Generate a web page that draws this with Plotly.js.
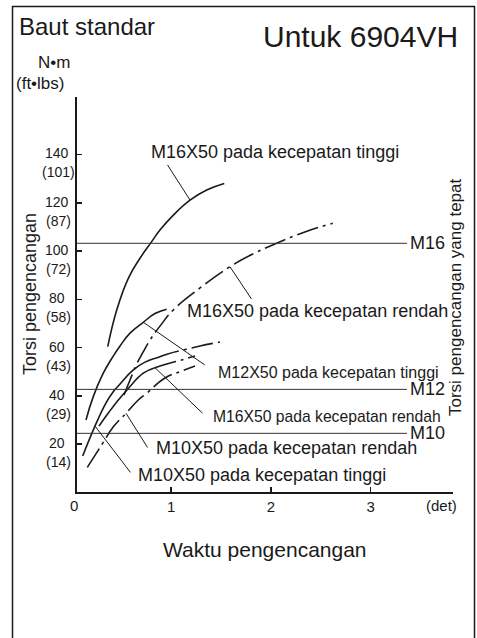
<!DOCTYPE html>
<html><head><meta charset="utf-8">
<script src="https://cdn.plot.ly/plotly-3.0.1.min.js"></script>
<style>html,body{margin:0;padding:0;background:#fff;}#chart{width:477px;height:638px;}</style>
</head><body><div id="chart"></div>
<script>
// ---------------- data ----------------
const torqueTicks = [20, 40, 60, 80, 100, 120, 140];          // N·m
const torqueFtLbs = ['(14)', '(29)', '(43)', '(58)', '(72)', '(87)', '(101)'];
const timeTicks = [1, 2, 3];                                    // det

// M16X50 high speed (solid)
const m16HighX = [0.366, 0.456, 0.572, 0.689, 0.806, 0.889, 1.023, 1.19, 1.357, 1.533];
const m16HighY = [60.4, 75.6, 88.7, 97.0, 103.9, 108.7, 114.9, 121.1, 125.3, 128.0];
// M16X50 low speed (dash-dot)
const m16LowX = [0.529, 0.589, 0.656, 0.722, 0.789, 0.889, 1.023, 1.29, 1.59, 1.82, 2.058, 2.34, 2.62];
const m16LowY = [40.4, 46.6, 53.2, 58.3, 63.1, 68.9, 75.6, 84.7, 93.5, 98.8, 103.2, 107.9, 111.5];
// M12X50 high speed (solid)
const m12HighX = [0.148, 0.221, 0.321, 0.409, 0.489, 0.589, 0.722, 0.839, 0.956];
const m12HighY = [30.0, 39.7, 49.4, 55.7, 60.7, 66.0, 70.5, 74.1, 75.9];
// curve solid at first, then dash-dot (ends ~62)
const m12LowX = [0.115, 0.238, 0.349, 0.419, 0.489, 0.619, 0.739, 0.869, 0.959, 1.16, 1.29, 1.49];
const m12LowY = [15.1, 27.5, 37.1, 41.6, 44.9, 50.7, 54.0, 55.9, 57.3, 59.4, 60.7, 62.3];
// curve solid at first, then dash-dot (ends ~56)
const m10HighX = [0.278, 0.379, 0.472, 0.572, 0.722, 0.839, 0.939, 1.09, 1.24];
const m10HighY = [27.5, 33.3, 38.3, 43.1, 49.4, 51.7, 53.0, 54.7, 56.5];
// M10X50 low speed (dash-dot)
const m10LowX = [0.161, 0.305, 0.422, 0.549, 0.672, 0.756, 0.939, 1.107, 1.24];
const m10LowY = [10.4, 19.7, 27.2, 32.8, 38.3, 41.1, 47.4, 50.3, 52.4];

// appropriate tightening torque reference lines
const refNames = ['M16', 'M12', 'M10'];
const refTorque = [103.2, 42.7, 24.5];

// ---------------- layout helpers ----------------
const X_RANGE = [0.058, 3.824];
const Y_RANGE = [0.2, 163.8];
const REF_END = 3.363;
const M = {l: 77, r: 24, t: 97, b: 146};
const W = 477, H = 638;
const PW = W - M.l - M.r, PH = H - M.t - M.b;
const px = v => (v - M.l) / PW;
const py = v => (H - M.b - v) / PH;
const FONT = 'Liberation Sans, Arial, Helvetica, sans-serif';
const INK = '#1a1a1a';
const DASHDOT = '22px,5px,3px,5px';
const m12Split = 7, m10Split = 5;

function curve(x, y, dash) {
  return {x: x, y: y, type: 'scatter', mode: 'lines', hoverinfo: 'skip',
    line: {color: INK, width: 1.6, dash: dash, shape: 'spline', smoothing: 1.3}};
}

const traces = [
  curve(m16HighX, m16HighY, 'solid'),
  curve(m16LowX, m16LowY, DASHDOT),
  curve(m12HighX, m12HighY, 'solid'),
  curve(m12LowX.slice(0, m12Split + 1), m12LowY.slice(0, m12Split + 1), 'solid'),
  curve(m12LowX.slice(m12Split), m12LowY.slice(m12Split), DASHDOT),
  curve(m10HighX.slice(0, m10Split + 1), m10HighY.slice(0, m10Split + 1), 'solid'),
  curve(m10HighX.slice(m10Split), m10HighY.slice(m10Split), DASHDOT),
  curve(m10LowX, m10LowY, DASHDOT)
];
refTorque.forEach(v => traces.push({
  x: [X_RANGE[0], REF_END], y: [v, v], type: 'scatter', mode: 'lines', hoverinfo: 'skip',
  line: {color: '#333', width: 1}
}));

function txt(text, x, y, size, extra) {
  return Object.assign({text: text, xref: 'paper', yref: 'paper', x: px(x), y: py(y),
    xanchor: 'center', yanchor: 'middle', showarrow: false,
    font: {family: FONT, size: size, color: INK}}, extra || {});
}
function leader(x, y, ax, ay) {
  return {text: ' ', x: x, y: y, xref: 'x', yref: 'y', ax: ax, ay: ay,
    showarrow: true, arrowhead: 0, arrowwidth: 1, arrowcolor: INK,
    standoff: 0, startstandoff: 0, font: {size: 1}, borderpad: 0};
}

const ann = [
  txt('Baut standar', 87, 27, 24),
  txt('Untuk 6904VH', 360, 36, 30),
  txt('N•m', 54, 63, 17),
  txt('(ft•lbs)', 40, 83, 17),
  txt('Torsi pengencangan', 30, 294, 18, {textangle: -90}),
  txt('Torsi pengencangan yang tepat', 455, 297, 17, {textangle: -90}),
  txt('Waktu pengencangan', 265, 549, 21),
  txt('0', 74, 505, 15),
  txt('(det)', 441, 505, 15),
  txt('M16X50 pada kecepatan tinggi', 275, 152, 18),
  txt('M16X50 pada kecepatan rendah', 317.5, 311, 18),
  txt('M12X50 pada kecepatan tinggi', 328, 372, 16),
  txt('M16X50 pada kecepatan rendah', 327, 416, 15.7),
  txt('M10X50 pada kecepatan rendah', 286.7, 448, 18),
  txt('M10X50 pada kecepatan tinggi', 261.7, 475, 18),
  leader(m16HighX[7], m16HighY[7], -23, -36),
  leader(m16LowX[8], m16LowY[8], 22, 33),
  leader(m12HighX[6], m12HighY[6], 62, 43),
  leader(m10HighX[5], m10HighY[5], 48, 46),
  leader(m10LowX[3], m10LowY[3], 22, 35),
  leader(m12LowX[1], m12LowY[1], 36, 47)
];
torqueTicks.forEach((v, i) => {
  ann.push({text: String(v), xref: 'paper', yref: 'y', x: px(57), y: v, xanchor: 'center',
    yanchor: 'middle', yshift: 1, showarrow: false, font: {family: FONT, size: 14, color: INK}});
  ann.push({text: torqueFtLbs[i], xref: 'paper', yref: 'y', x: px(58), y: v, xanchor: 'center',
    yanchor: 'middle', yshift: -18, showarrow: false, font: {family: FONT, size: 14, color: INK}});
});
refNames.forEach((n, i) => ann.push({text: n, xref: 'x', yref: 'y', x: REF_END, y: refTorque[i],
  xanchor: 'left', yanchor: 'middle', xshift: 1, showarrow: false,
  font: {family: FONT, size: 18, color: INK}}));

const layout = {
  width: W, height: H, margin: M, showlegend: false,
  paper_bgcolor: '#fff', plot_bgcolor: '#fff',
  font: {family: FONT, color: INK},
  xaxis: {range: X_RANGE, tickvals: timeTicks, ticks: 'inside', ticklen: 5, tickwidth: 1.5,
    tickcolor: INK, showline: true, linecolor: INK, linewidth: 2, showgrid: false, zeroline: false,
    tickfont: {family: FONT, size: 15, color: INK}, fixedrange: true},
  yaxis: {range: Y_RANGE, tickvals: torqueTicks, ticks: 'inside', ticklen: 5, tickwidth: 1.5,
    tickcolor: INK, showline: true, linecolor: INK, linewidth: 2, showgrid: false, zeroline: false,
    showticklabels: false, fixedrange: true},
  annotations: ann,
  shapes: [{type: 'rect', xref: 'paper', yref: 'paper', x0: px(12.5), x1: px(474.5),
    y0: py(660), y1: py(6.5), line: {color: INK, width: 1.5}}]
};
Plotly.newPlot('chart', traces, layout, {staticPlot: true, displayModeBar: false});
</script></body></html>
